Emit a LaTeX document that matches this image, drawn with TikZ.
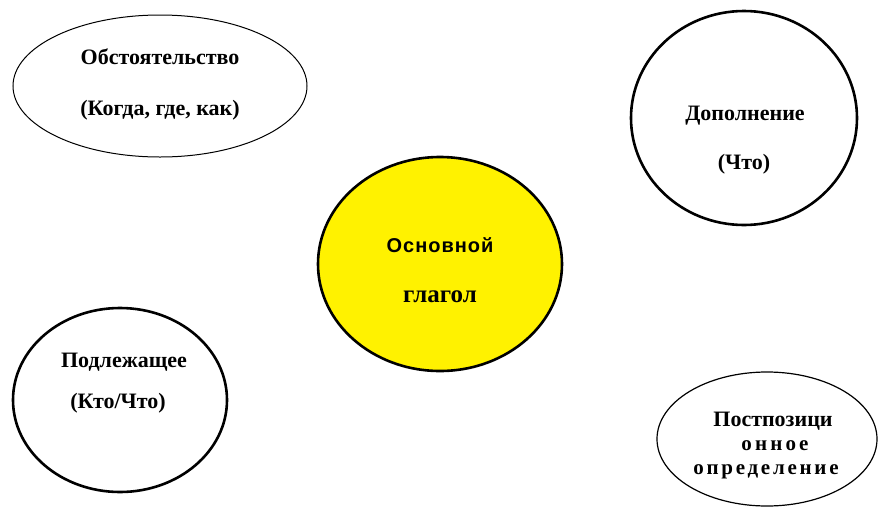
\documentclass[tikz,border=0pt]{standalone}
\usepackage{fontspec}
\setmainfont{Liberation Serif}
\newfontfamily\sansb{Liberation Sans}
\usetikzlibrary{shapes.geometric}
\tikzset{
  lbl/.style={font=\bfseries\fontsize{22}{26}\selectfont, align=center, inner sep=0pt},
  postlbl/.style={lbl, font=\bfseries\fontsize{21}{25}\selectfont},
}
\begin{document}
\begin{tikzpicture}[x=1pt,y=-1pt]
\useasboundingbox (0,0) rectangle (879,507);
\fill[white] (0,0) rectangle (879,507);
% shapes
\draw[line width=1pt] (160,86) ellipse [x radius=147, y radius=71];
\draw[line width=2.6pt] (744,118) ellipse [x radius=113, y radius=107];
\draw[line width=2.6pt, fill=yellow] (440,264) ellipse [x radius=122, y radius=107];
\draw[line width=2.6pt] (120,400) ellipse [x radius=107, y radius=92];
\draw[line width=1.2pt] (767,439) ellipse [x radius=110, y radius=67];
% texts
\node[lbl] (obs1) at (160,57) {Обстоятельство};
\node[lbl] (obs2) at (160,110) {(Когда, где, как)};
\node[lbl] (dop1) at (745,116) {Дополнение};
\node[lbl] (dop2) at (744,164) {(Что)};
\node[lbl, font=\sansb\bfseries\fontsize{20}{24}\selectfont\addfontfeature{LetterSpace=5}] (osn1) at (440,245) {Основной};
\node[lbl, font=\bfseries\fontsize{25}{30}\selectfont] (osn2) at (440,297) {глагол};
\node[lbl] (pod1) at (124,362) {Подлежащее};
\node[lbl] (pod2) at (118,403) {(Кто/Что)};
\node[postlbl, font=\bfseries\fontsize{22}{26}\selectfont] (post1) at (773,421) {Постпозици};
\node[postlbl, font=\bfseries\fontsize{21}{25}\selectfont\addfontfeature{LetterSpace=15}] (post2) at (775,446) {онное};
\node[postlbl, font=\bfseries\fontsize{21}{25}\selectfont\addfontfeature{LetterSpace=13}] (post3) at (766,472) {определение};
\end{tikzpicture}
\end{document}
